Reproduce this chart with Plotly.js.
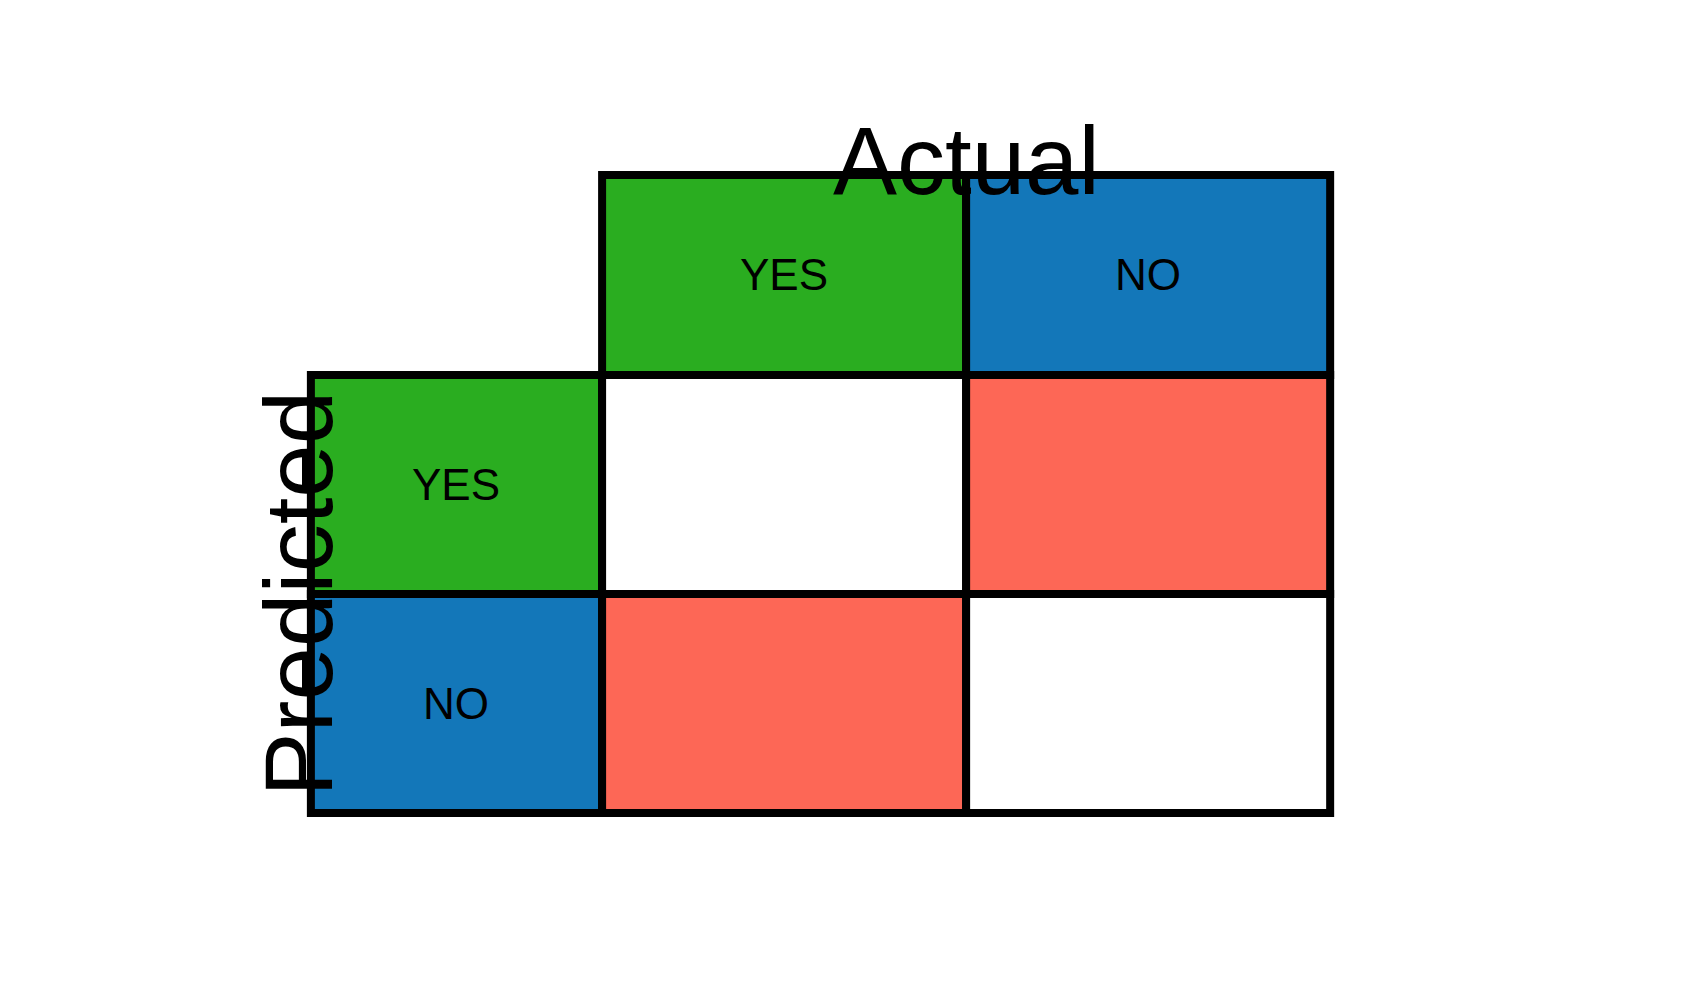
<!DOCTYPE html>
<html><head><meta charset="utf-8">
<script src="https://cdn.plot.ly/plotly-3.0.1.min.js"></script>
<style>body{margin:0;background:#fff}#c{width:1688px;height:1002px}</style>
</head><body><div id="c"></div>
<script>
const colLabels = ["", "YES", "NO"];      // header column + actual classes
const rowLabels = ["", "YES", "NO"];      // header row + predicted classes
const colEdges = [0, 0.8, 1.8, 2.8];
const rowEdges = [0, 0.913, 1.913, 2.913];
// cell colors [row][col]; null = no cell
const cellColors = [
  [null, "#2aad20", "#1377b9"],
  ["#2aad20", "#ffffff", "#fd6756"],
  ["#1377b9", "#fd6756", "#ffffff"]
];
const cellText = [
  ["", "YES", "NO"],
  ["YES", "", ""],
  ["NO", "", ""]
];
const font = "Liberation Sans, Arial, Helvetica, sans-serif";
const shapes = [], annotations = [];
for (let r = 0; r < 3; r++) for (let c = 0; c < 3; c++) {
  if (!cellColors[r][c]) continue;
  shapes.push({type:"rect", xref:"x", yref:"y", x0:colEdges[c], x1:colEdges[c+1], y0:rowEdges[r], y1:rowEdges[r+1],
    fillcolor:cellColors[r][c], line:{color:"#000", width:8}});
  if (cellText[r][c]) annotations.push({xref:"x", yref:"y", x:(colEdges[c]+colEdges[c+1])/2, y:(rowEdges[r]+rowEdges[r+1])/2,
    text:cellText[r][c], showarrow:false, font:{family:font, size:44, color:"#000"}});
}
annotations.push({xref:"x", yref:"paper", x:(colEdges[1]+colEdges[3])/2, y:1-105/1002, text:"Actual", showarrow:false, font:{family:font, size:96, color:"#000"}});
annotations.push({xref:"paper", yref:"y", x:243/1688, y:(rowEdges[1]+rowEdges[3])/2, text:"Predicted", textangle:-90, showarrow:false, font:{family:font, size:96, color:"#000"}});
Plotly.newPlot("c", [{x:[0], y:[0], mode:"markers", marker:{opacity:0}, hoverinfo:"skip", showlegend:false}], {
  width:1688, height:1002, margin:{l:0,r:0,t:0,b:0}, paper_bgcolor:"#fff", plot_bgcolor:"#fff",
  xaxis:{range:[-0.854, 3.783], visible:false, fixedrange:true},
  yaxis:{range:[3.776, -0.799], visible:false, fixedrange:true},
  shapes, annotations, showlegend:false
}, {displayModeBar:false, staticPlot:true});
</script></body></html>
